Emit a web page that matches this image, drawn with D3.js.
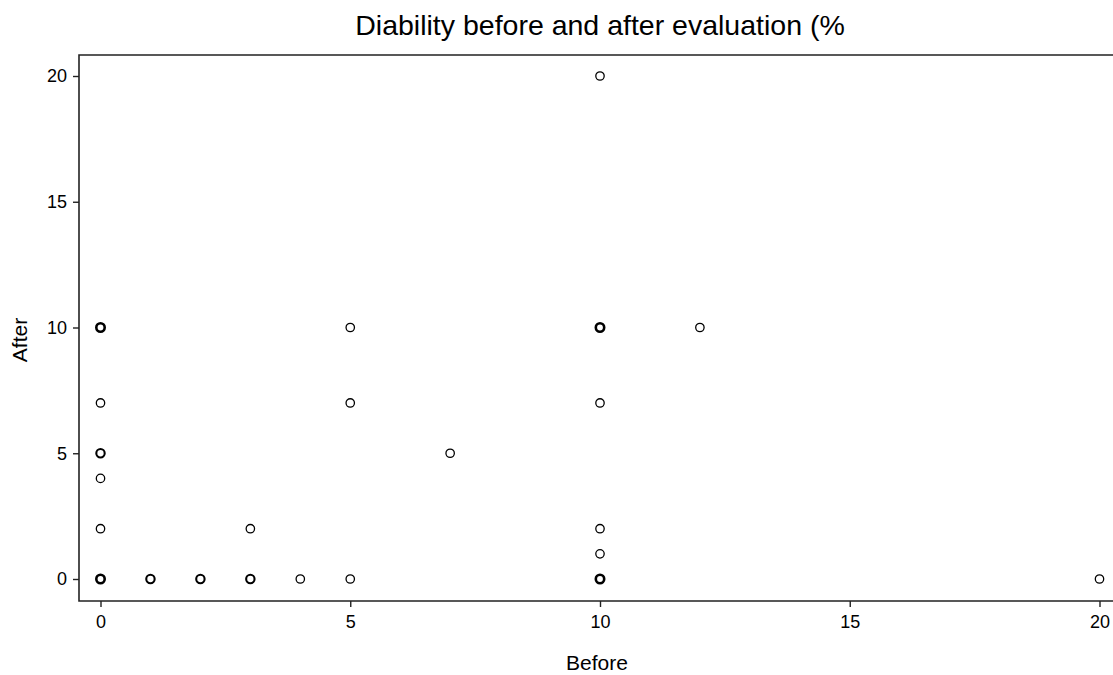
<!DOCTYPE html>
<html><head><meta charset="utf-8">
<script src="https://cdn.jsdelivr.net/npm/d3@7"></script>
<style>body{margin:0;background:#fff}svg{display:block}text{font-family:"Liberation Sans",Arial,sans-serif;fill:#000}</style>
</head><body><svg id="c" width="1113" height="675"></svg>
<script>
const title = "Diability before and after evaluation (%";
const xLabel = "Before", yLabel = "After";
const before = [0,0,0,0,0,0,0,0,0,0,0, 1,1, 2,2, 3,3,3, 4, 5,5,5, 7, 10,10,10,10,10,10,10,10,10,10, 12, 20];
const after  = [10,10,10,7,5,5,4,2,0,0,0, 0,0, 0,0, 2,0,0, 0, 10,7,0, 5, 20,10,10,10,7,2,1,0,0,0, 10, 0];
const xTicks = [0,5,10,15,20];
const yTicks = [0,5,10,15,20];

(function(){
const svg = d3.select("#c");
const x = d3.scaleLinear().domain([0,20]).range([100.5,1099.5]);
const y = d3.scaleLinear().domain([0,20]).range([579,76]);
const fLeft = 79, fTop = 55, fBottom = 601;

svg.append("path").attr("d",`M1113,${fTop}H${fLeft}V${fBottom}H1113`).attr("fill","none").attr("stroke","#222").attr("stroke-width",1.6);

const ya = svg.append("g").attr("transform",`translate(${fLeft},0)`)
  .call(d3.axisLeft(y).tickValues(yTicks).tickSize(6).tickPadding(6).tickFormat(d3.format("d")));
ya.select(".domain").remove();
ya.selectAll("line").attr("stroke","#222").attr("stroke-width",1.4);
ya.selectAll("text").style("font-size","18px").attr("fill","#111");

const xa = svg.append("g").attr("transform",`translate(0,${fBottom})`)
  .call(d3.axisBottom(x).tickValues(xTicks).tickSize(6).tickPadding(8).tickFormat(d3.format("d")));
xa.select(".domain").remove();
xa.selectAll("line").attr("stroke","#222").attr("stroke-width",1.4);
xa.selectAll("text").style("font-size","18px").attr("fill","#111");

svg.append("text").attr("x",600).attr("y",35).attr("text-anchor","middle").style("font-size","28.5px").text(title);
svg.append("text").attr("x",597).attr("y",670).attr("text-anchor","middle").style("font-size","21px").attr("fill","#222").text(xLabel);
svg.append("text").attr("transform","translate(27,340) rotate(-90)").attr("text-anchor","middle").style("font-size","21px").attr("fill","#222").text(yLabel);

const counts = d3.rollups(before.map((b,i)=>[b,after[i]]), v=>v.length, d=>d[0]+","+d[1]);
svg.append("g").selectAll("circle").data(counts).join("circle")
  .attr("cx",d=>x(+d[0].split(",")[0]))
  .attr("cy",d=>y(+d[0].split(",")[1]))
  .attr("r",4.2)
  .attr("fill","none")
  .attr("stroke","#000")
  .attr("stroke-width",d=>d[1]>2?2.6:(d[1]>1?2.1:1.3));
})();
</script></body></html>
